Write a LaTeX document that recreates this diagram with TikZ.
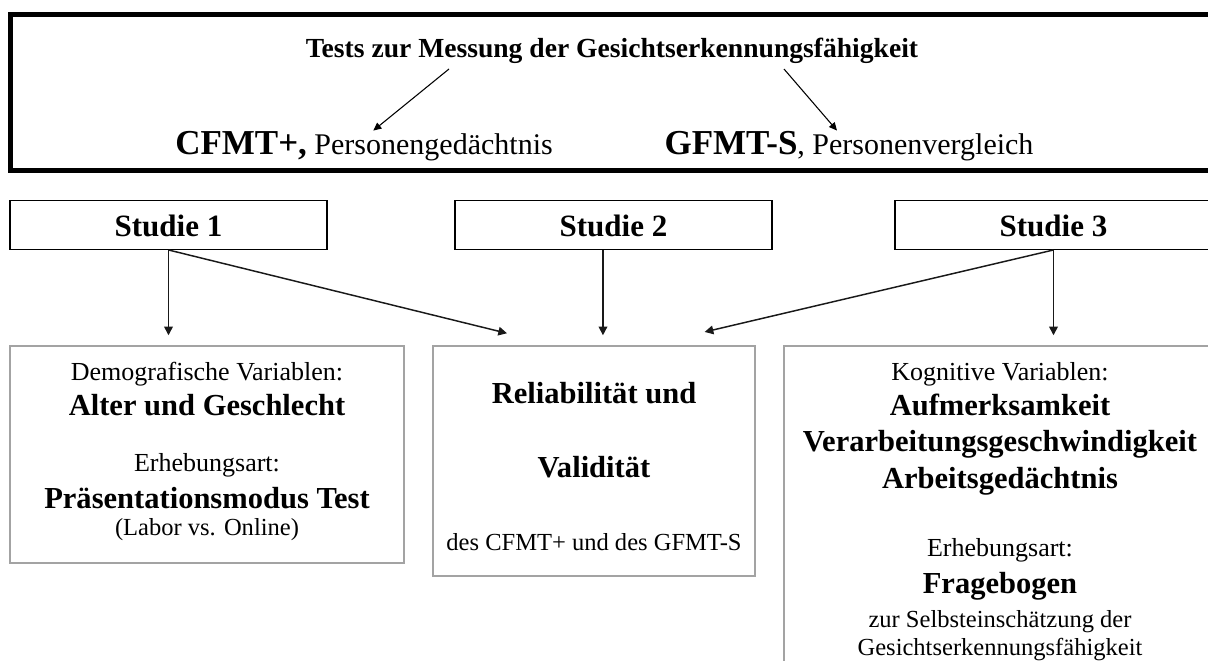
\documentclass[tikz,border=0pt]{standalone}
\usepackage{fontspec}
\setmainfont{Liberation Serif}
\usetikzlibrary{arrows.meta}
\newcommand\fTitle{\fontsize{20.7pt}{25pt}\selectfont\bfseries}
\newcommand\fCF{\fontsize{26.25pt}{30pt}\selectfont\bfseries}
\newcommand\fPers{\fontsize{22.5pt}{26pt}\selectfont\mdseries}
\newcommand\fStud{\fontsize{23.25pt}{27pt}\selectfont\bfseries}
\newcommand\fReg{\fontsize{19.5pt}{23pt}\selectfont}
\newcommand\fBld{\fontsize{22.9pt}{27pt}\selectfont\bfseries}
\newcommand\fSml{\fontsize{18.4pt}{22pt}\selectfont}
\begin{document}
\begin{tikzpicture}[x=0.75pt,y=-0.75pt,
  topbox/.style={draw=black, line width=3.75pt, inner sep=0pt},
  studbox/.style={draw=black, line width=1pt, inner sep=0pt, minimum width=237.75pt, minimum height=36.45pt},
  graybox/.style={draw=black!36, line width=1.1pt, inner sep=0pt},
  txt/.style={inner sep=0pt, anchor=base},
  arr/.style={draw=black!90, line width=1.1pt, -{Triangle[width=6.5pt,length=6.5pt]}},
  thinarr/.style={draw=black, line width=0.8pt, -{Triangle[width=5.5pt,length=6pt]}}]
\clip (0,0) rectangle (1208,661);
\fill[white] (0,0) rectangle (1208,661);
% top box
\node[topbox, minimum width=915pt, minimum height=117.5pt] (top) at (620,92.35) {};
\node[txt] (title) at (612,57) {\fTitle Tests zur Messung der Gesichtserkennungsfähigkeit};
\node[txt] (cfmt) at (364,154) {\fCF CFMT+,\fPers{} Personengedächtnis};
\node[txt] (gfmt) at (849,154) {\fCF GFMT-S\fPers, Personenvergleich};
\coordinate (t1) at (449,69);
\coordinate (t2) at (784,69);
\draw[thinarr] (t1) -- ([xshift=7pt]cfmt.north);
\draw[thinarr] (t2) -- ([xshift=-9pt]gfmt.north);
% Studie boxes
\node[studbox] (s1) at (168.5,225) {};
\node[studbox] (s2) at (613.5,225) {};
\node[studbox] (s3) at (1053.5,225) {};
\node[txt] (s1t) at (168.5,236) {\fStud Studie 1};
\node[txt] (s2t) at (613.5,236) {\fStud Studie 2};
\node[txt] (s3t) at (1053.5,236) {\fStud Studie 3};
% bottom boxes
\node[graybox, minimum width=295.5pt, minimum height=162.75pt] (b1) at (207,454.5) {};
\node[graybox, minimum width=241.5pt, minimum height=172.5pt] (b2) at (594,461) {};
\node[graybox, minimum width=324pt, minimum height=265.5pt] (b3) at (1000,523) {};
% arrows
\draw[arr] (s1.south) -- ([yshift=7.5pt]s1.south |- b1.north);
\draw[arr] (s1.south) -- ([xshift=-65.25pt,yshift=9pt]b2.north);
\draw[arr] ([xshift=-7.9pt]s2.south) -- ([xshift=-7.9pt,yshift=7.5pt]s2.south |- b2.north);
\draw[arr] (s3.south) -- ([xshift=83pt,yshift=10pt]b2.north);
\draw[arr] (s3.south) -- ([yshift=7.5pt]s3.south |- b3.north);
% box 1 text
\node[txt] (b1a) at (207,380) {\fReg Demografische Variablen:};
\node[txt] (b1b) at (207,415) {\fBld Alter und Geschlecht};
\node[txt] (b1c) at (207,471.7) {\fReg Erhebungsart:};
\node[txt] (b1d) at (207,508) {\fBld Präsentationsmodus Test};
\node[txt] (b1e) at (207,535) {\fSml (Labor vs. Online)};
% box 2 text
\node[txt] (b2a) at (594,403) {\fBld Reliabilität und};
\node[txt] (b2b) at (594,477) {\fBld Validität};
\node[txt] (b2c) at (594,550.7) {\fSml des CFMT+ und des GFMT-S};
% box 3 text
\node[txt] (b3a) at (1000,380) {\fReg Kognitive Variablen:};
\node[txt] (b3b) at (1000,415) {\fBld Aufmerksamkeit};
\node[txt] (b3c) at (1000,451.7) {\fBld Verarbeitungsgeschwindigkeit};
\node[txt] (b3d) at (1000,488) {\fBld Arbeitsgedächtnis};
\node[txt] (b3e) at (1000,556.7) {\fReg Erhebungsart:};
\node[txt] (b3f) at (1000,593) {\fBld Fragebogen};
\node[txt] (b3g) at (1000,627) {\fSml zur Selbsteinschätzung der};
\node[txt] (b3h) at (1000,655.5) {\fSml Gesichtserkennungsfähigkeit};
\end{tikzpicture}
\end{document}
